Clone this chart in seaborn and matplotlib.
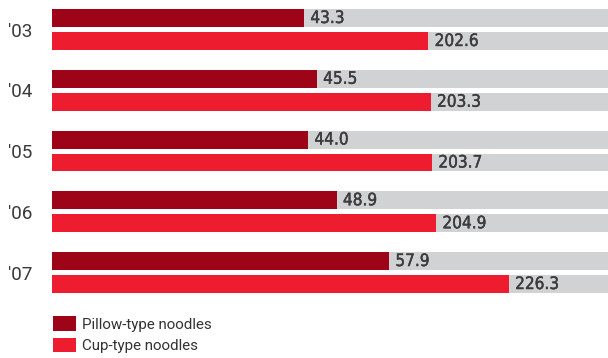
import pandas as pd
import matplotlib
matplotlib.use("Agg")
import matplotlib.pyplot as plt
import matplotlib.patheffects as pe
from matplotlib.patches import Patch
import seaborn as sns

# data
years = ["'03", "'04", "'05", "'06", "'07"]
pillow = [43.3, 45.5, 44.0, 48.9, 57.9]
cup = [202.6, 203.3, 203.7, 204.9, 226.3]
types = ["Pillow-type noodles", "Cup-type noodles"]

# axis ranges (the two series use different scales in the original)
pillow_lim = (0, 95.5)
cup_lim = (91.75, 255.5)

dark_red = "#9d0418"
red = "#ed1c2e"
grey = "#d1d2d4"
text_col = "#3c3c3e"

sns.set_style("white")
plt.rcParams["font.family"] = ["Roboto", "DejaVu Sans"]

df = pd.DataFrame({
    "year": years * 2,
    "type": [types[0]] * len(years) + [types[1]] * len(years),
    "value": pillow + cup,
})
df["track"] = pillow_lim[1]

fig = plt.figure(figsize=(6.08, 3.58), dpi=100)
ax = fig.add_axes([52 / 608, 0, 556 / 608, 1])

kw = dict(y="year", order=years, hue="type", hue_order=types, dodge=True, saturation=1,
          width=0.757, gap=0.218, errorbar=None, legend=False, linewidth=0, orient="h")
# a thin stroke gives the labels a medium weight
lab = dict(fmt="%.1f", padding=4.5, fontsize=12.3, color=text_col,
           family="DejaVu Sans", fontstretch="condensed",
           path_effects=[pe.withStroke(linewidth=0.3, foreground=text_col)])


def bars_of(a):
    # last container that actually holds bars (seaborn adds empty ones for missing hue levels)
    good = [c for c in a.containers if len(c.patches) > 0]
    return good[-1]


# grey tracks behind every bar
sns.barplot(data=df, x="track", palette=[grey, grey], ax=ax, **kw)

# pillow-type on the first x scale
sns.barplot(data=df[df["type"] == types[0]], x="value", palette=[dark_red, red], ax=ax, **kw)
ax.bar_label(bars_of(ax), **lab)

# cup-type on its own x scale
ax2 = ax.twiny()
sns.barplot(data=df[df["type"] == types[1]], x="value", palette=[dark_red, red], ax=ax2, **kw)
ax2.bar_label(bars_of(ax2), **lab)

ax.set_xlim(*pillow_lim)
ax2.set_xlim(*cup_lim)
ax.set_ylim(5.407, -0.4856)

for a in (ax, ax2):
    for s in a.spines.values():
        s.set_visible(False)
    a.set_xticks([])
    a.set_xlabel("")
    a.set_ylabel("")

ax.set_yticks(range(len(years)))
ax.set_yticklabels(years, fontsize=13.6, color="#3a3a3a")
ax.tick_params(axis="y", length=0, pad=14)

handles = [Patch(facecolor=dark_red, edgecolor="none"), Patch(facecolor=red, edgecolor="none")]
fig.legend(handles, types, loc="upper left", bbox_to_anchor=(53 / 608, 1 - 316 / 358),
           frameon=False, borderpad=0, borderaxespad=0, fontsize=10.9,
           handlelength=1.52, handleheight=1.13, handletextpad=0.4, labelspacing=0.4,
           labelcolor="#333333")

fig.savefig("out.png", dpi=100)
